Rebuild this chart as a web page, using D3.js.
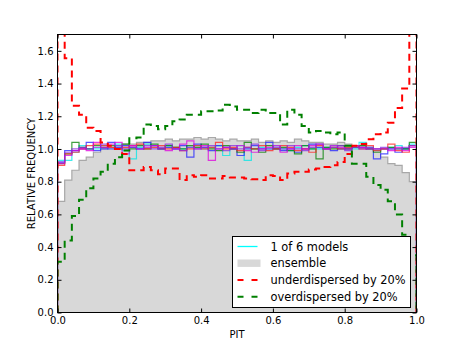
<!DOCTYPE html>
<html>
<head>
<meta charset="utf-8">
<script src="https://cdn.jsdelivr.net/npm/d3@7"></script>
<style>
  body { margin: 0; background: #fff; }
  svg { font-family: "DejaVu Sans", sans-serif; }
</style>
</head>
<body>
<script>
// 50 PIT bins of width 0.02
var binCount = 50;

var ensemble = [0.68,0.81,0.87,0.93,0.95,0.98,1.0,
  1.01,1.02,1.03,1.03,1.04,1.04,1.05,1.05,1.06,1.05,
  1.06,1.06,1.07,1.06,1.07,1.06,1.05,1.06,1.05,1.05,
  1.06,1.04,1.05,1.04,1.05,1.04,1.06,1.05,1.04,1.04,
  1.03,1.03,1.04,1.03,1.02,1.02,1.01,1.00,
  0.95,0.91,0.90,0.855,0.80];

var under = [2.2,1.555,1.265,1.21,1.13,1.11,1.04,1.02,1.0,0.97,
  0.87,0.87,0.89,0.87,0.845,0.88,0.88,0.81,0.84,0.83,
  0.84,0.82,0.82,0.835,0.825,0.825,0.82,0.815,0.81,0.84,
  0.835,0.81,0.85,0.86,0.86,0.875,0.88,0.89,0.90,0.92,
  0.97,1.02,1.03,1.06,1.09,1.10,1.16,1.25,1.37,2.2];

var over = [0.31,0.44,0.59,0.69,0.76,0.82,0.86,0.91,0.95,0.99,
  1.065,1.07,1.15,1.14,1.12,1.14,1.17,1.18,1.21,1.21,
  1.23,1.23,1.235,1.27,1.26,1.24,1.24,1.22,1.24,1.22,
  1.22,1.15,1.24,1.21,1.14,1.10,1.11,1.10,1.09,1.10,
  1.02,0.91,0.91,0.83,0.78,0.75,0.68,0.60,0.475,0.35];

var modelColors = ["#00e5e5","#2020ff","#008000","#ff2020","#dd00dd","#8a2be2"];
var models = [
  [0.93,0.93,0.98,1.02,1.0,1.0,1.02,1.0,1.03,0.99, 0.94,1.01,1.03,1.02,1.0,1.02,1.01,1.0,1.01,1.02,
   1.0,1.01,1.02,0.96,1.0,1.02,0.93,1.0,1.01,1.0, 1.02,1.0,0.99,1.01,1.02,1.0,1.0,1.01,1.02,1.0,
   1.01,1.0,1.04,1.01,0.99,1.0,1.01,1.02,1.0,1.03],
  [0.92,0.99,0.99,1.0,1.04,0.99,1.0,1.04,1.01,1.02, 1.01,1.0,1.04,1.02,1.0,1.01,1.0,1.02,0.95,1.03,
   1.01,0.99,1.02,1.01,1.0,0.96,1.0,1.02,1.0,1.04, 1.0,0.99,1.0,0.98,1.0,1.03,1.01,1.0,0.99,1.0,
   1.0,1.02,1.01,1.0,0.94,0.97,1.0,0.98,1.0,1.02],
  [0.91,0.97,1.04,1.01,1.0,1.02,1.01,1.02,1.0,1.03, 1.0,1.02,1.0,1.03,1.0,1.02,1.01,1.0,1.02,1.01,
   1.03,1.0,0.99,1.02,1.0,0.98,1.04,1.0,0.98,1.02, 1.0,1.01,0.99,0.97,1.02,1.0,0.94,1.01,1.0,1.02,
   1.0,1.01,1.02,1.0,0.98,1.0,1.01,1.0,1.0,1.04],
  [0.90,0.97,0.98,1.0,1.02,1.03,1.02,1.01,1.0,1.01, 1.02,1.03,1.0,1.01,1.02,1.0,1.01,0.99,1.0,1.02,
   1.0,1.01,1.04,1.0,1.01,0.99,1.01,1.0,1.02,0.99, 1.0,1.02,1.01,0.99,1.0,0.98,1.02,1.0,1.01,1.0,
   1.01,1.02,1.0,1.02,0.99,1.0,1.03,0.99,0.98,1.02],
  [0.91,0.96,0.99,1.0,0.99,1.04,1.01,1.03,1.04,0.97, 1.02,1.0,1.01,1.02,1.0,0.99,1.0,1.03,1.05,1.0,
   1.02,0.93,1.0,1.01,1.0,1.02,0.99,0.98,1.0,1.01, 1.02,0.98,1.0,1.02,1.0,1.02,1.03,1.0,1.02,1.01,
   1.0,1.02,1.01,1.0,1.0,1.0,0.99,1.01,0.99,1.01],
  [0.92,0.98,1.0,1.01,1.0,1.01,1.03,1.0,1.02,1.0, 1.01,1.0,1.02,1.0,1.01,1.03,1.0,0.99,1.01,1.0,
   1.01,1.02,1.0,0.99,1.02,1.0,1.01,1.03,0.99,1.0, 1.01,1.0,1.02,1.0,0.99,1.01,1.03,1.0,1.01,1.02,
   0.99,1.01,1.0,1.01,1.0,1.01,1.0,1.0,1.01,1.02]
];

var xTicks = [0, 0.2, 0.4, 0.6, 0.8, 1.0];
var yTicks = [0, 0.2, 0.4, 0.6, 0.8, 1.0, 1.2, 1.4, 1.6];
var legendLabels = ["1 of 6 models", "ensemble", "underdispersed by 20%", "overdispersed by 20%"];

var W = 463, H = 348;
var pLeft = 57.5, pRight = 416.5, pTop = 34.5, pBottom = 312.5;

var svg = d3.select("body").append("svg")
    .attr("width", W)
    .attr("height", H);

var x = d3.scaleLinear().domain([0, 1]).range([pLeft, pRight]);
var y = d3.scaleLinear().domain([0, 1.7]).range([pBottom, pTop]);

svg.append("clipPath").attr("id", "plot")
  .append("rect")
    .attr("x", pLeft).attr("y", pTop)
    .attr("width", pRight - pLeft).attr("height", pBottom - pTop);

// histogram step outline, closed down to zero at both ends
function stepPoints(vals){
  var pts = [[0, 0]];
  vals.forEach(function(v, i){
    pts.push([i / binCount, v]);
    pts.push([(i + 1) / binCount, v]);
  });
  pts.push([1, 0]);
  return pts;
}
var line = d3.line()
    .x(function(d){ return x(d[0]); })
    .y(function(d){ return y(d[1]); });

var g = svg.append("g").attr("clip-path", "url(#plot)");

g.append("path")
    .attr("d", line(stepPoints(ensemble)))
    .attr("fill", "#d8d8d8")
    .attr("stroke", "#a8a8a8")
    .attr("stroke-width", 1.2);

models.forEach(function(m, i){
  g.append("path")
      .attr("d", line(stepPoints(m)))
      .attr("fill", "none")
      .attr("stroke", modelColors[i])
      .attr("stroke-opacity", 0.75)
      .attr("stroke-width", 1.2);
});

g.append("path")
    .attr("d", line(stepPoints(under)))
    .attr("fill", "none")
    .attr("stroke", "#ff0000")
    .attr("stroke-width", 2)
    .attr("stroke-dasharray", "7,5");

g.append("path")
    .attr("d", line(stepPoints(over)))
    .attr("fill", "none")
    .attr("stroke", "#008000")
    .attr("stroke-width", 2)
    .attr("stroke-dasharray", "7,5");

// axes, ticks pointing inward on all four sides
var xAxis = svg.append("g")
    .attr("transform", "translate(0," + pBottom + ")")
    .call(d3.axisBottom(x).tickValues(xTicks).tickFormat(d3.format(".1f"))
      .tickSize(-4).tickPadding(4));
var yAxis = svg.append("g")
    .attr("transform", "translate(" + pLeft + ",0)")
    .call(d3.axisLeft(y).tickValues(yTicks).tickFormat(d3.format(".1f"))
      .tickSize(-4).tickPadding(4));
var xTop = svg.append("g")
    .attr("transform", "translate(0," + pTop + ")")
    .call(d3.axisTop(x).tickValues(xTicks).tickFormat("").tickSize(-4));
var yRight = svg.append("g")
    .attr("transform", "translate(" + pRight + ",0)")
    .call(d3.axisRight(y).tickValues(yTicks).tickFormat("").tickSize(-4));

[xAxis, yAxis, xTop, yRight].forEach(function(a){
  a.select(".domain").remove();
  a.selectAll("line").attr("stroke", "#000");
  a.selectAll("text")
      .attr("font-family", "DejaVu Sans")
      .attr("font-size", "10px")
      .attr("fill", "#000");
});

svg.append("rect")
    .attr("x", pLeft).attr("y", pTop)
    .attr("width", pRight - pLeft).attr("height", pBottom - pTop)
    .attr("fill", "none")
    .attr("stroke", "#000")
    .attr("stroke-width", 1);

svg.append("text")
    .attr("x", (pLeft + pRight) / 2)
    .attr("y", 337.5)
    .attr("text-anchor", "middle")
    .attr("font-size", "10px")
    .text("PIT");

svg.append("text")
    .attr("transform", "translate(34.5," + ((pTop + pBottom) / 2) + ") rotate(-90)")
    .attr("text-anchor", "middle")
    .attr("font-size", "10px")
    .text("RELATIVE FREQUENCY");

// legend
var lg = svg.append("g");
lg.append("rect")
    .attr("x", 232.5).attr("y", 236.5)
    .attr("width", 178).attr("height", 71)
    .attr("fill", "#fff")
    .attr("stroke", "#000")
    .attr("stroke-width", 1);

var rowY = [246.5, 263.2, 280, 296.8];
lg.append("line")
    .attr("x1", 237.5).attr("x2", 257.5)
    .attr("y1", rowY[0]).attr("y2", rowY[0])
    .attr("stroke", "#00ffff").attr("stroke-width", 1.3);
lg.append("rect")
    .attr("x", 237.5).attr("y", rowY[1] - 3.7)
    .attr("width", 23).attr("height", 7.4)
    .attr("fill", "#d8d8d8");
lg.append("line")
    .attr("x1", 237.5).attr("x2", 257.5)
    .attr("y1", rowY[2]).attr("y2", rowY[2])
    .attr("stroke", "#ff0000").attr("stroke-width", 2)
    .attr("stroke-dasharray", "6,8");
lg.append("line")
    .attr("x1", 237.5).attr("x2", 257.5)
    .attr("y1", rowY[3]).attr("y2", rowY[3])
    .attr("stroke", "#008000").attr("stroke-width", 2)
    .attr("stroke-dasharray", "6,8");

lg.selectAll("text.lab")
    .data(legendLabels)
  .enter().append("text")
    .attr("class", "lab")
    .attr("x", 270.5)
    .attr("y", function(d, i){ return rowY[i]; })
    .attr("dy", "0.36em")
    .attr("font-size", "11.4px")
    .text(function(d){ return d; });
</script>
</body>
</html>
